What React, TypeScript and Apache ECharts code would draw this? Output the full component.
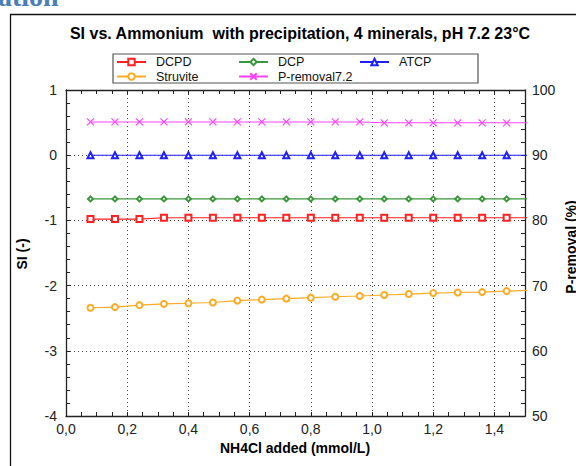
import React, { useEffect, useRef } from 'react';
import * as echarts from 'echarts';

const xValues = [0.08, 0.16, 0.24, 0.32, 0.4, 0.48, 0.56, 0.64, 0.72, 0.8, 0.88, 0.96, 1.04, 1.12, 1.2, 1.28, 1.36, 1.44, 1.52];
const dcpd = [-0.98, -0.98, -0.98, -0.96, -0.96, -0.96, -0.96, -0.96, -0.96, -0.96, -0.96, -0.96, -0.96, -0.96, -0.96, -0.96, -0.96, -0.96, -0.96];
const dcp = [-0.67, -0.67, -0.67, -0.67, -0.67, -0.67, -0.67, -0.67, -0.67, -0.67, -0.67, -0.67, -0.67, -0.67, -0.67, -0.67, -0.67, -0.67, -0.67];
const atcp = [0.0, 0.0, 0.0, 0.0, 0.0, 0.0, 0.0, 0.0, 0.0, 0.0, 0.0, 0.0, 0.0, 0.0, 0.0, 0.0, 0.0, 0.0, 0.0];
const struvite = [-2.34, -2.33, -2.3, -2.28, -2.27, -2.26, -2.23, -2.215, -2.2, -2.185, -2.17, -2.16, -2.145, -2.13, -2.115, -2.105, -2.1, -2.085, -2.07];
const pRemoval = [95.1, 95.1, 95.1, 95.1, 95.1, 95.1, 95.1, 95.1, 95.1, 95.1, 95.1, 95.1, 94.97, 94.97, 94.97, 94.97, 94.97, 94.97, 94.97];

const titleText = 'SI vs. Ammonium  with precipitation, 4 minerals, pH 7.2 23°C';
const xAxisName = 'NH4Cl added (mmol/L)';
const yLeftName = 'SI (-)';
const yRightName = 'P-removal (%)';

const FONT = '"Liberation Sans", Arial, sans-serif';

function pairs(vals: number[]) {
  return xValues.map((x, i) => [x, vals[i]]);
}

export default function App() {
  const ref = useRef<HTMLDivElement>(null);
  useEffect(() => {
    if (!ref.current) return;
    const chart = echarts.init(ref.current, null, { renderer: 'svg' });
    const axisLine = { show: true, onZero: false, lineStyle: { color: '#222', width: 1.3 } };
    const hiddenLine = { show: false, onZero: false };
    const tick = { show: true, inside: true, length: 4, lineStyle: { color: '#222', width: 1 } };
    const grid = { left: 66, right: 51, top: 90, bottom: 50 };
    const dotted = { show: true, lineStyle: { color: '#444', type: [1, 3], width: 1 } };
    const labelStyle = { color: '#222', fontFamily: FONT, fontSize: 14 };
    const legendBase = {
      selectedMode: false,
      padding: 0,
      itemWidth: 29,
      itemHeight: 8,
      itemGap: 0,
      textStyle: { color: '#111', fontFamily: FONT, fontSize: 12.5, padding: [0, 0, 0, 5] },
    };
    const mkSeries = (name: string, data: number[], color: string, symbol: string, size: number, yIdx = 0) => ({
      name,
      type: 'line',
      xAxisIndex: 0,
      yAxisIndex: yIdx,
      data: pairs(data),
      symbol,
      symbolSize: size,
      clip: true,
      z: 3,
      lineStyle: { color, width: 1.1 },
      itemStyle: { color, borderColor: color, borderWidth: 1.1 },
    });
    chart.setOption({
      animation: false,
      backgroundColor: '#fff',
      grid,
      graphic: [
        {
          type: 'text', left: -2, top: -18,
          style: { text: 'ation', fill: '#4a7ebb', font: 'bold 28px "Liberation Serif", serif' },
        },
        {
          type: 'rect', shape: { x: 10.5, y: 14.5, width: 700, height: 600 },
          style: { fill: 'none', stroke: '#111', lineWidth: 1.3 },
        },
        {
          type: 'text', x: 300, y: 33,
          style: { text: titleText, fill: '#000', font: 'bold 16px "Liberation Sans", Arial, sans-serif', align: 'center', verticalAlign: 'middle' },
        },
        {
          type: 'rect', shape: { x: 113, y: 54, width: 365, height: 29 },
          style: { fill: 'none', stroke: '#555', lineWidth: 1.2 },
        },
        {
          type: 'text', x: 295, y: 448,
          style: { text: xAxisName, fill: '#000', font: 'bold 14px "Liberation Sans", Arial, sans-serif', align: 'center', verticalAlign: 'middle' },
        },
        {
          type: 'text', x: 22, y: 254, rotation: Math.PI / 2,
          style: { text: yLeftName, fill: '#000', font: 'bold 14px "Liberation Sans", Arial, sans-serif', align: 'center', verticalAlign: 'middle' },
        },
        {
          type: 'text', x: 571, y: 247, rotation: Math.PI / 2,
          style: { text: yRightName, fill: '#000', font: 'bold 14px "Liberation Sans", Arial, sans-serif', align: 'center', verticalAlign: 'middle' },
        },
      ],
      legend: [
        { ...legendBase, data: ['DCPD'], left: 116, top: 55.5 },
        { ...legendBase, data: ['DCP'], left: 238, top: 55.5 },
        { ...legendBase, data: ['ATCP'], left: 359, top: 55.5 },
        { ...legendBase, data: ['Struvite'], left: 116, top: 70 },
        { ...legendBase, data: ['P-removal7.2'], left: 238, top: 70 },
      ],
      xAxis: [
        {
          type: 'value', position: 'bottom', min: 0, max: 1.5, interval: 0.05,
          axisLine, axisTick: tick, splitLine: { show: false },
          axisLabel: {
            ...labelStyle, margin: 6,
            formatter: (v: number) => (Math.round(v * 100) % 20 === 0 && v < 1.45 ? v.toFixed(1).replace('.', ',') : ''),
          },
        },
        {
          type: 'value', position: 'top', min: 0, max: 1.5, interval: 0.05,
          axisLine, axisTick: tick, axisLabel: { show: false }, splitLine: { show: false },
        },
        {
          type: 'value', position: 'bottom', min: 0, max: 1.5, interval: 0.2,
          axisLine: hiddenLine, axisTick: { show: false }, axisLabel: { show: false }, splitLine: dotted,
        },
      ],
      yAxis: [
        {
          type: 'value', position: 'left', min: -4, max: 1, interval: 0.2,
          axisLine, axisTick: tick, splitLine: { show: false },
          axisLabel: {
            ...labelStyle, margin: 9,
            formatter: (v: number) => (Math.abs(v - Math.round(v)) < 1e-6 ? String(Math.round(v)) : ''),
          },
        },
        {
          type: 'value', position: 'right', min: 50, max: 100, interval: 2,
          axisLine, axisTick: tick, splitLine: { show: false },
          axisLabel: {
            ...labelStyle, margin: 7,
            formatter: (v: number) => (Math.round(v) % 10 === 0 ? String(Math.round(v)) : ''),
          },
        },
        {
          type: 'value', position: 'left', min: -4, max: 1, interval: 1,
          axisLine: hiddenLine, axisTick: { show: false }, axisLabel: { show: false }, splitLine: dotted,
        },
      ],
      series: [
        mkSeries('DCPD', dcpd, '#ff2020', 'emptyRect', 6),
        mkSeries('DCP', dcp, '#3a963a', 'emptyDiamond', 5),
        mkSeries('ATCP', atcp, '#2020ff', 'emptyTriangle', 6),
        mkSeries('Struvite', struvite, '#ffaa22', 'emptyCircle', 6),
        mkSeries('P-removal7.2', pRemoval, '#ff40ff', 'path://M0,0L10,10M10,0L0,10', 7, 1),
      ],
    });
    return () => chart.dispose();
  }, []);
  return <div ref={ref} style={{ width: 576, height: 466, position: 'absolute', left: 0, top: 0 }} />;
}
